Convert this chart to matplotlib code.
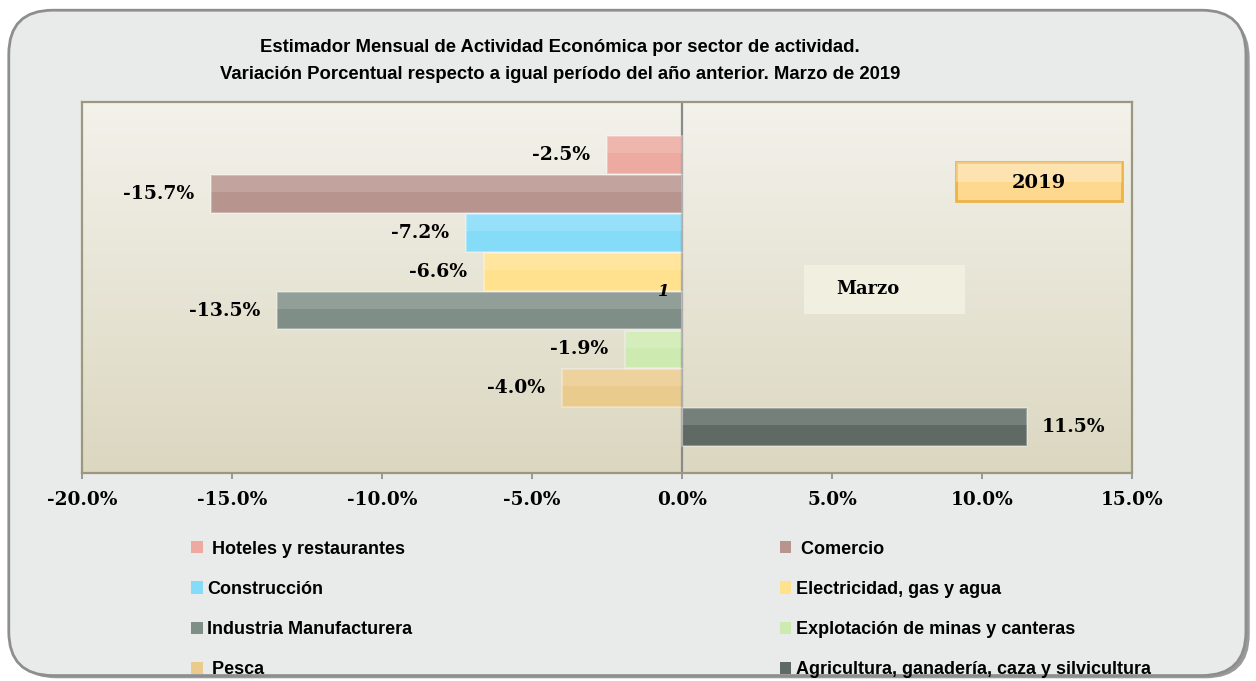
import numpy as np
import matplotlib
matplotlib.use('Agg')
import matplotlib.pyplot as plt
from matplotlib.patches import FancyBboxPatch, Rectangle
from matplotlib.ticker import FuncFormatter

sectores = [' Hoteles y restaurantes', ' Comercio', 'Construcción',
            'Electricidad, gas y agua', 'Industria Manufacturera',
            'Explotación de minas y canteras', ' Pesca',
            'Agricultura, ganadería, caza y silvicultura']
variacion = [-2.5, -15.7, -7.2, -6.6, -13.5, -1.9, -4.0, 11.5]
colores = ['#EDAAA0', '#B8948E', '#84DCF9', '#FFE18E', '#7F8E86',
           '#CDEAB0', '#EACB8E', '#5F6A65']
titulo = ('Estimador Mensual de Actividad Económica por sector de actividad.\n'
          'Variación Porcentual respecto a igual período del año anterior. Marzo de 2019')

fig = plt.figure(figsize=(12.56, 6.81), dpi=100)
fig.patch.set_facecolor('white')

# outer rounded frame with a little shadow
shadow = FancyBboxPatch((0.010, 0.004), 0.985, 0.975, boxstyle='round,pad=0,rounding_size=0.035',
                        transform=fig.transFigure, facecolor='#9a9a9a', edgecolor='none',
                        mutation_aspect=1256/681, zorder=-2)
frame = FancyBboxPatch((0.007, 0.008), 0.985, 0.977, boxstyle='round,pad=0,rounding_size=0.035',
                       transform=fig.transFigure, facecolor='#E9EAEA', edgecolor='#8E8E8E',
                       linewidth=2, mutation_aspect=1256/681, zorder=-1)
fig.patches.extend([shadow, frame])

fig.text(0.446, 0.910, titulo, ha='center', va='center', fontsize=13.3,
         fontweight='bold', family='Liberation Sans', linespacing=1.75)

ax = fig.add_axes([0.0653, 0.3054, 0.8360, 0.5446])
ax.set_zorder(1)

# plot area gradient
grad = np.linspace(0, 1, 256).reshape(-1, 1)
top = np.array([0.953, 0.949, 0.922])
bot = np.array([0.859, 0.843, 0.753])
img = top + (bot - top) * grad[:, :, None]
ax.imshow(img, extent=[0, 1, 0, 1], transform=ax.transAxes, aspect='auto', zorder=0,
          origin='upper')

y = np.arange(len(variacion))
bars = ax.barh(y, variacion, height=0.97, color=colores, edgecolor='none', zorder=2)
# bevel highlight on bars
for b in bars:
    x0, w = b.get_x(), b.get_width()
    yb, h = b.get_y(), b.get_height()
    ax.add_patch(Rectangle((x0, yb), w, h * 0.45, facecolor='white', alpha=0.15,
                           edgecolor='none', zorder=3))
    ax.add_patch(Rectangle((x0, yb), w, h, facecolor='none', edgecolor='white',
                           alpha=0.3, linewidth=1.5, zorder=3))

for yi, v in zip(y, variacion):
    if v < 0:
        ax.text(v - 0.55, yi, f'{v:.1f}%', ha='right', va='center', fontsize=13.5,
                fontweight='bold', family='DejaVu Serif', zorder=4)
    else:
        ax.text(v + 0.5, yi, f'{v:.1f}%', ha='left', va='center', fontsize=13.5,
                fontweight='bold', family='DejaVu Serif', zorder=4)

ax.text(-0.4, 3.5, '1', ha='right', va='center', fontsize=12, fontweight='bold',
        style='italic', family='DejaVu Serif', zorder=5)

ax.set_xlim(-20, 15)
ax.set_ylim(8.18, -1.36)
ax.set_xticks(np.arange(-20, 16, 5))
ax.xaxis.set_major_formatter(FuncFormatter(lambda v, p: f'{v:.1f}%'))
ax.set_yticks([])
ax.tick_params(axis='x', length=4, width=1.2, color='#8a8a8a', direction='out', pad=9)
for lab in ax.get_xticklabels():
    lab.set_fontsize(13.3)
    lab.set_fontweight('bold')
    lab.set_family('DejaVu Serif')
ax.axvline(0, color='#8a8a8a', linewidth=1.6, zorder=2.5)
for s in ax.spines.values():
    s.set_color('#9C987E')
    s.set_linewidth(1.6)

# "2019" and "Marzo" boxes
caja = Rectangle((0.832, 0.733), 0.158, 0.105, transform=ax.transAxes,
                 facecolor='#FDD88E', edgecolor='#EBB445', linewidth=2, zorder=4)
ax.add_patch(caja)
ax.add_patch(Rectangle((0.832, 0.786), 0.158, 0.052, transform=ax.transAxes,
                       facecolor='white', alpha=0.3, edgecolor='none', zorder=4))
ax.text(0.911, 0.783, '2019', transform=ax.transAxes, ha='center', va='center',
        fontsize=14, fontweight='bold', family='DejaVu Serif', zorder=5)
rect = Rectangle((0.688, 0.430), 0.153, 0.132, transform=ax.transAxes,
                 facecolor='#F0EFE0', edgecolor='none', zorder=4)
ax.add_patch(rect)
ax.text(0.748, 0.496, 'Marzo', transform=ax.transAxes, ha='center', va='center',
        fontsize=13, fontweight='bold', family='DejaVu Serif', zorder=5)

# legend: two columns
orden = [0, 2, 4, 6, 1, 3, 5, 7]
handles = [Rectangle((0, 0), 1, 1, facecolor=colores[i], edgecolor='none') for i in orden]
labels = [sectores[i] for i in orden]
fig.legend(handles, labels, ncol=2, loc='upper left',
           bbox_to_anchor=(0.152, 0.206), bbox_transform=fig.transFigure,
           frameon=False, prop={'family': 'Liberation Sans', 'weight': 'bold', 'size': 13},
           handlelength=0.65, handleheight=0.65, handletextpad=0.25, labelspacing=1.28,
           columnspacing=20.35, borderaxespad=0, borderpad=0)

fig.savefig('out.png', dpi=100)
